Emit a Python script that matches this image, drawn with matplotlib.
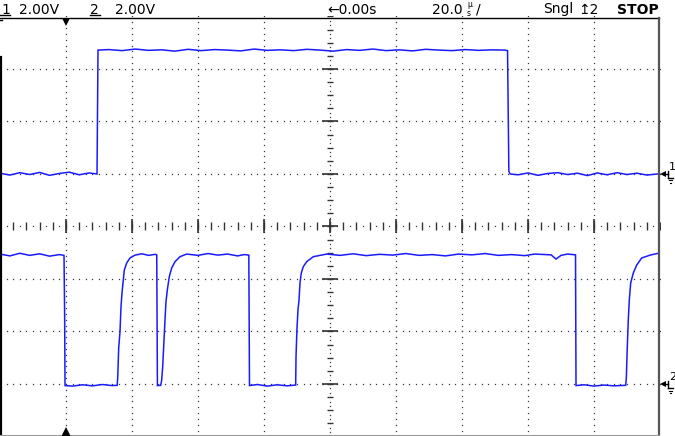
import numpy as np
import matplotlib
matplotlib.use("Agg")
import matplotlib.pyplot as plt

# ---------------- data (time in microseconds, amplitude in volts) ----------------
ch1_time_us = [-100.0, -97.0, -94.0, -91.0, -88.0, -85.0, -82.0, -79.0, -76.0, -73.0,
               -70.6, -70.3,
               -67.0, -63.0, -59.0, -55.0, -51.0, -47.0, -43.0, -39.0, -35.0, -31.0,
               -27.0, -23.0, -19.0, -15.0, -11.0, -7.0, -3.0, 1.0, 5.0, 9.0,
               13.0, 17.0, 21.0, 25.0, 29.0, 33.0, 37.0, 41.0, 45.0, 49.0, 53.0,
               53.8, 54.2, 54.6,
               57.0, 60.0, 63.0, 66.0, 69.0, 72.0, 75.0, 78.0, 81.0, 84.0, 87.0,
               90.0, 93.0, 96.0, 100.0]
ch1_volts = [0.03, -0.04, 0.05, -0.02, 0.06, -0.05, 0.02, 0.07, -0.03, 0.04,
             0.0, 4.72,
             4.74, 4.70, 4.76, 4.71, 4.73, 4.68, 4.75, 4.70, 4.74, 4.72,
             4.69, 4.76, 4.71, 4.73, 4.70, 4.75, 4.72, 4.68, 4.74, 4.71,
             4.76, 4.70, 4.73, 4.69, 4.75, 4.72, 4.70, 4.74, 4.71, 4.73, 4.72,
             4.70, 0.10, 0.0,
             -0.03, 0.04, -0.05, 0.02, 0.05, -0.02, 0.03, -0.06, 0.04, -0.03, 0.05,
             -0.02, 0.03, -0.04, 0.01]

ch2_time_us = [-100.0, -97.0, -94.0, -91.0, -88.0, -85.0, -82.0, -80.6, -80.4, -80.3,
               -78.0, -75.0, -72.0, -69.0, -66.0, -64.5,
               -64.33, -64.03, -63.64, -63.33, -63.03, -62.64, -62.33, -61.61, -60.61, -59.09,
               -57.0, -55.0, -53.0, -52.5,
               -52.3, -51.3,
               -51.0, -50.7, -50.3, -50.0, -49.7, -49.3, -48.7, -47.97, -46.97, -45.45, -43.42,
               -40.0, -37.0, -34.0, -31.0, -28.0, -26.0, -24.6,
               -24.5, -24.4,
               -22.0, -19.0, -16.0, -13.0, -10.4,
               -10.3, -10.0, -9.7, -9.39, -9.09, -8.70, -8.09, -7.06, -5.06, -1.0,
               3.0, 7.0, 11.0, 15.0, 19.0, 23.0, 27.0, 31.0, 35.0, 39.0, 43.0, 47.0,
               51.0, 55.0, 59.0, 62.0, 67.0, 68.5, 70.0, 72.0, 74.4,
               74.55,
               77.0, 80.0, 83.0, 86.0, 89.6,
               89.8, 90.09, 90.39, 90.70, 91.12, 91.91, 92.94, 94.45, 97.0, 99.48, 100.0]
ch2_volts = [4.95, 4.88, 4.98, 4.90, 4.96, 4.87, 4.93, 4.90, 2.44, -0.06,
             -0.08, -0.03, -0.07, -0.02, -0.06, -0.05,
             0.23, 1.37, 1.99, 2.95, 3.47, 3.96, 4.34, 4.61, 4.80, 4.91,
             4.96, 4.90, 4.94, 4.92,
             -0.06, -0.05,
             0.15, 0.66, 1.68, 2.44, 3.14, 3.58, 4.09, 4.42, 4.66, 4.85, 4.95,
             4.90, 4.97, 4.91, 4.95, 4.88, 4.93, 4.91,
             2.44, -0.06,
             -0.02, -0.08, -0.03, -0.07, -0.04,
             1.04, 2.13, 2.82, 3.20, 3.85, 4.23, 4.47, 4.66, 4.85, 4.95,
             4.90, 4.96, 4.89, 4.94, 4.91, 4.97, 4.90, 4.93, 4.88, 4.95, 4.92, 4.97,
             4.90, 4.93, 4.89, 4.95, 4.92, 4.76, 4.90, 4.95, 4.92,
             -0.06,
             -0.03, -0.08, -0.04, -0.07, -0.05,
             0.23, 1.42, 2.44, 3.20, 3.85, 4.23, 4.53, 4.80, 4.91, 4.98, 4.97]

header_texts = ["1", "2.00V", "2", "2.00V", "\u21900.00s", "20.0", "\u00b5\ns", "/",
                "Sngl", "\u21a52", "STOP"]

# scope settings
time_per_div_us = 20.0
ch1_volts_per_div = 2.0
ch2_volts_per_div = 2.0
ch1_offset_div = 1.0
ch2_offset_div = -3.0

W, H = 675, 436
fig = plt.figure(figsize=(W / 100, H / 100), dpi=100)
fig.patch.set_facecolor("white")

# graticule axes: 10 x 8 divisions
left_px, right_px = 0.0, 660.0
center_y_px, div_y_px = 226.5, 52.5
top_px = center_y_px - 4 * div_y_px
bot_px = center_y_px + 4 * div_y_px
ax = fig.add_axes([left_px / W, 1 - bot_px / H, (right_px - left_px) / W, (bot_px - top_px) / H])
ax.set_xlim(-5, 5)
ax.set_ylim(-4, 4)
ax.axis("off")

dot_col = "#3a3a3a"
tick_col = "#333333"
# dotted grid lines
for k in range(-4, 5):
    if k == 0:
        continue
    yy = np.arange(-4, 4.001, 1 / 9)
    ax.plot(np.full_like(yy, k), yy, ls="none", marker="s", ms=0.9, mew=0, color=dot_col)
for j in range(-3, 4):
    if j == 0:
        continue
    xx = np.arange(-5, 5.001, 0.1)
    ax.plot(xx, np.full_like(xx, j), ls="none", marker="s", ms=0.9, mew=0, color=dot_col)

# center horizontal axis: ticks every 0.2 div, dots between
xt = np.arange(-5, 5.001, 0.2)
ax.plot(xt, np.zeros_like(xt), ls="none", marker="|", ms=5.5, mew=1.0, color=tick_col)
xd = np.arange(-4.9, 5.0, 0.2)
ax.plot(xd, np.zeros_like(xd), ls="none", marker="s", ms=0.9, mew=0, color=dot_col)
xm = np.arange(-4, 5, 1)
ax.plot(xm, np.zeros_like(xm), ls="none", marker="|", ms=10, mew=1.2, color=tick_col)

# center vertical axis: ticks every 0.25 div, dots between
yt = np.arange(-4, 4.001, 0.25)
ax.plot(np.zeros_like(yt), yt, ls="none", marker="_", ms=4.5, mew=1.0, color=tick_col)
yd = np.concatenate([yt[:-1] + 0.25 / 3, yt[:-1] + 0.5 / 3])
ax.plot(np.zeros_like(yd), yd, ls="none", marker="s", ms=0.9, mew=0, color=dot_col)
ym = np.arange(-3, 4, 1)
ax.plot(np.zeros_like(ym), ym, ls="none", marker="_", ms=11, mew=1.2, color=tick_col)

# traces
trace_col = "#1a1aff"
t1 = np.array(ch1_time_us) / time_per_div_us
v1 = np.array(ch1_volts) / ch1_volts_per_div + ch1_offset_div
t2 = np.array(ch2_time_us) / time_per_div_us
v2 = np.array(ch2_volts) / ch2_volts_per_div + ch2_offset_div
ax.plot(t1, v1, color=trace_col, lw=1.1, solid_joinstyle="miter", zorder=5)
ax.plot(t2, v2, color=trace_col, lw=1.1, solid_joinstyle="miter", zorder=5)

# overlay in pixel coordinates for the screen furniture
ov = fig.add_axes([0, 0, 1, 1], zorder=10)
ov.set_xlim(0, W)
ov.set_ylim(H, 0)
ov.axis("off")
ov.patch.set_alpha(0)

# header line + borders
ov.plot([0, 659], [18, 18], color="black", lw=1.0)
ov.plot([659, 659], [18, 436], color="#555555", lw=1.6)
ov.plot([0.8, 0.8], [57, 436], color="black", lw=1.6)
ov.plot([0, 659], [434.5, 434.5], color="#999999", lw=0.8)
ov.plot([0, 2], [20, 20], color="black", lw=1.0)

# trigger position triangles
ov.plot([66], [22], marker="v", ms=6, color="black", mew=0)
ov.plot([66], [432], marker="^", ms=7, color="black", mew=0)

# header texts
fs = 10
fam = ["DejaVu Sans"]
base = 13.5
ov.text(1, base, header_texts[0], fontsize=fs, family=fam, va="baseline", ha="left")
ov.plot([0, 10], [15.5, 15.5], color="black", lw=1.0)
ov.text(19, base, header_texts[1], fontsize=fs, family=fam, va="baseline", ha="left")
ov.text(90, base, header_texts[2], fontsize=fs, family=fam, va="baseline", ha="left")
ov.plot([90, 100], [15.5, 15.5], color="black", lw=1.0)
ov.text(115, base, header_texts[3], fontsize=fs, family=fam, va="baseline", ha="left")
ov.text(327, base, header_texts[4], fontsize=fs, family=fam, va="baseline", ha="left")
ov.text(432, base, header_texts[5], fontsize=fs, family=fam, va="baseline", ha="left")
ov.text(467, 15.5, header_texts[6], fontsize=5.5, family=fam, va="baseline", ha="left",
        linespacing=0.95)
ov.text(476, base, header_texts[7], fontsize=fs, family=fam, va="baseline", ha="left")
ov.text(543, base, header_texts[8], fontsize=fs, family=fam, va="baseline", ha="left")
ov.text(578, base, header_texts[9], fontsize=fs, family=fam, va="baseline", ha="left")
ov.text(617, base, header_texts[10], fontsize=fs, family=fam, va="baseline", ha="left",
        fontweight="bold")

# channel ground markers on the right
for yy, lab in [(174, "1"), (384, "2")]:
    ov.plot([663], [yy], marker="<", ms=5, color="black", mew=0)
    ov.plot([663, 668], [yy, yy], color="black", lw=1.0)
    ov.plot([668, 668], [yy - 3, yy + 4], color="black", lw=1.0)
    ov.plot([668, 673], [yy + 4, yy + 4], color="black", lw=1.0)
    ov.plot([669, 672], [yy + 6.5, yy + 6.5], color="black", lw=0.8)
    ov.plot([670, 671], [yy + 9, yy + 9], color="black", lw=0.8)
    ov.text(669, yy - 4, lab, fontsize=8, family=fam, va="baseline", ha="left")

fig.savefig("out.png", dpi=100, facecolor="white")
